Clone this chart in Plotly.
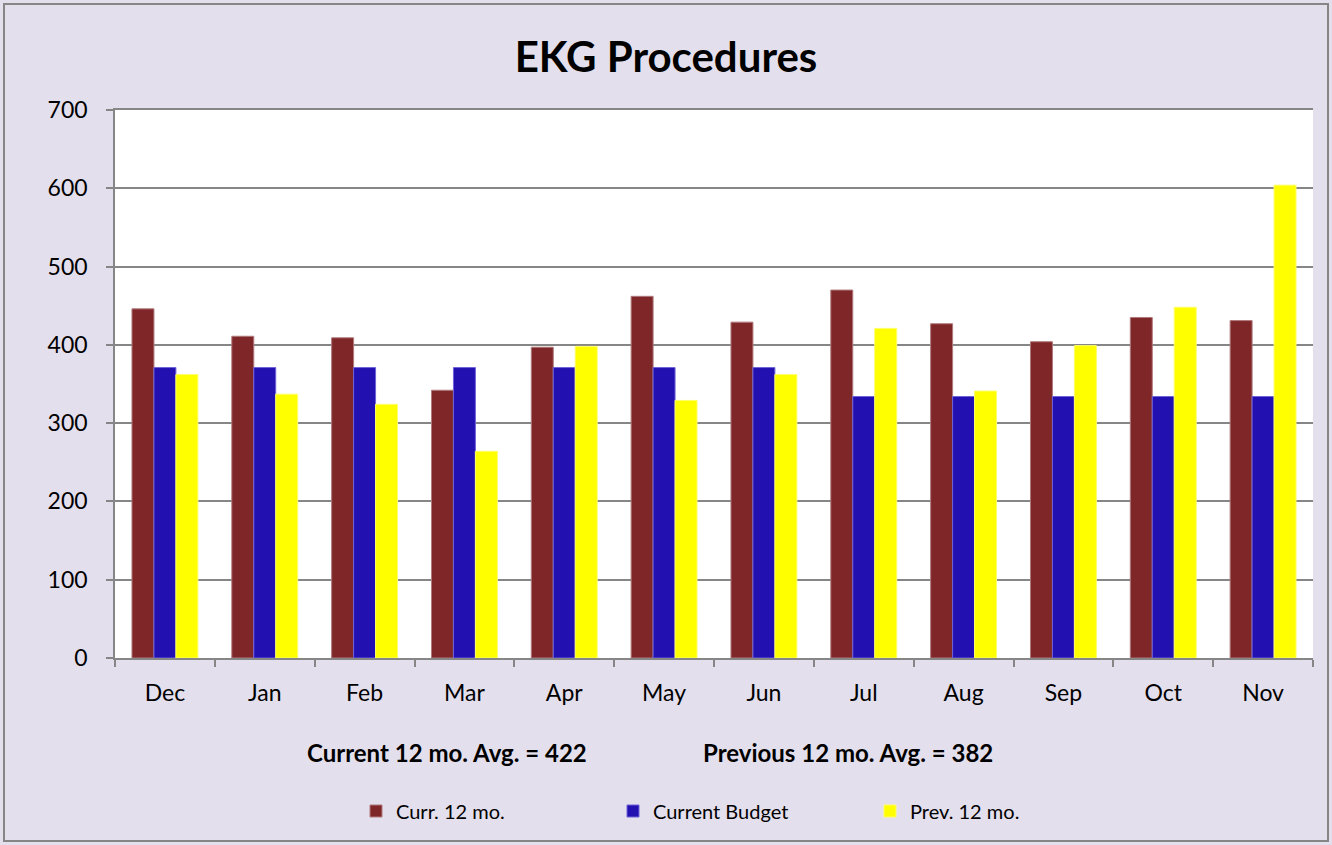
import plotly.graph_objects as go

months = ["Dec", "Jan", "Feb", "Mar", "Apr", "May", "Jun", "Jul", "Aug", "Sep", "Oct", "Nov"]
curr_12mo = [446, 411, 409, 342, 397, 462, 429, 470, 427, 404, 435, 431]
current_budget = [371, 371, 371, 371, 371, 371, 371, 334, 334, 334, 334, 334]
prev_12mo = [362, 337, 324, 264, 398, 329, 362, 421, 341, 399, 448, 604]
y_ticks = [0, 100, 200, 300, 400, 500, 600, 700]

title_text = "EKG Procedures"
avg_curr_text = "Current 12 mo. Avg. = 422"
avg_prev_text = "Previous 12 mo. Avg. = 382"

FONT = "Lato"
W, H = 1332, 845
L, R, T, B = 115, 19, 110, 187
PW, PH = W - L - R, H - T - B

fig = go.Figure()
fig.add_trace(go.Bar(x=months, y=curr_12mo, name="Curr. 12 mo.",
                     marker=dict(color="#7F2629", line=dict(color="#B07A7C", width=1))))
fig.add_trace(go.Bar(x=months, y=current_budget, name="Current Budget",
                     marker=dict(color="#2310B0", line=dict(color="#6F63D8", width=1))))
fig.add_trace(go.Bar(x=months, y=prev_12mo, name="Prev. 12 mo.",
                     marker=dict(color="#FFFF00", line=dict(color="#FFFF66", width=1))))

def px_x(px):
    return (px - L) / PW

def px_y(py):
    return (H - B - py) / PH

fig.update_layout(
    width=W, height=H,
    margin=dict(l=L, r=R, t=T, b=B, pad=0),
    paper_bgcolor="#E4DFEC",
    plot_bgcolor="#FFFFFF",
    barmode="group", bargap=0.34, bargroupgap=0,
    font=dict(family=FONT, color="#000000"),
    title=dict(text="<b>" + title_text + "</b>", x=0.5, xanchor="center",
               y=1 - 57 / H, yanchor="middle", font=dict(size=42, family=FONT)),
    xaxis=dict(showline=True, linecolor="#868686", linewidth=1.5, mirror=True, ticks="outside",
               tickson="boundaries", ticklen=7, tickcolor="#868686", tickwidth=1.5,
               tickfont=dict(size=23, family=FONT), showgrid=False, ticklabelstandoff=14),
    yaxis=dict(range=[0, 700], tickvals=y_ticks, showline=True, linecolor="#868686",
               linewidth=1.5, ticks="outside", ticklen=7, tickcolor="#868686", tickwidth=1.5,
               showgrid=True, gridcolor="#868686", gridwidth=1.5,
               tickfont=dict(size=23, family=FONT), zeroline=False, ticklabelstandoff=14),
    legend=dict(orientation="h", x=px_x(356), xanchor="left", y=px_y(811), yanchor="middle",
                font=dict(size=20, family=FONT), entrywidth=212, entrywidthmode="pixels",
                bgcolor="rgba(0,0,0,0)", itemwidth=30, traceorder="normal"),
    showlegend=True,
)

fig.add_annotation(text="<b>" + avg_curr_text + "</b>", xref="paper", yref="paper",
                   x=px_x(447), y=px_y(752), xanchor="center", yanchor="middle",
                   showarrow=False, font=dict(size=24, family=FONT))
fig.add_annotation(text="<b>" + avg_prev_text + "</b>", xref="paper", yref="paper",
                   x=px_x(848), y=px_y(752), xanchor="center", yanchor="middle",
                   showarrow=False, font=dict(size=24, family=FONT))

# outer chart border
fig.add_shape(type="rect", xref="paper", yref="paper",
              x0=px_x(4), x1=px_x(1328), y0=px_y(841), y1=px_y(4),
              line=dict(color="#868686", width=2), fillcolor="rgba(0,0,0,0)", layer="below")

fig.write_html("out.html", config={"displayModeBar": False},
               post_script="document.body.style.margin='0';document.body.style.overflow='hidden';")
